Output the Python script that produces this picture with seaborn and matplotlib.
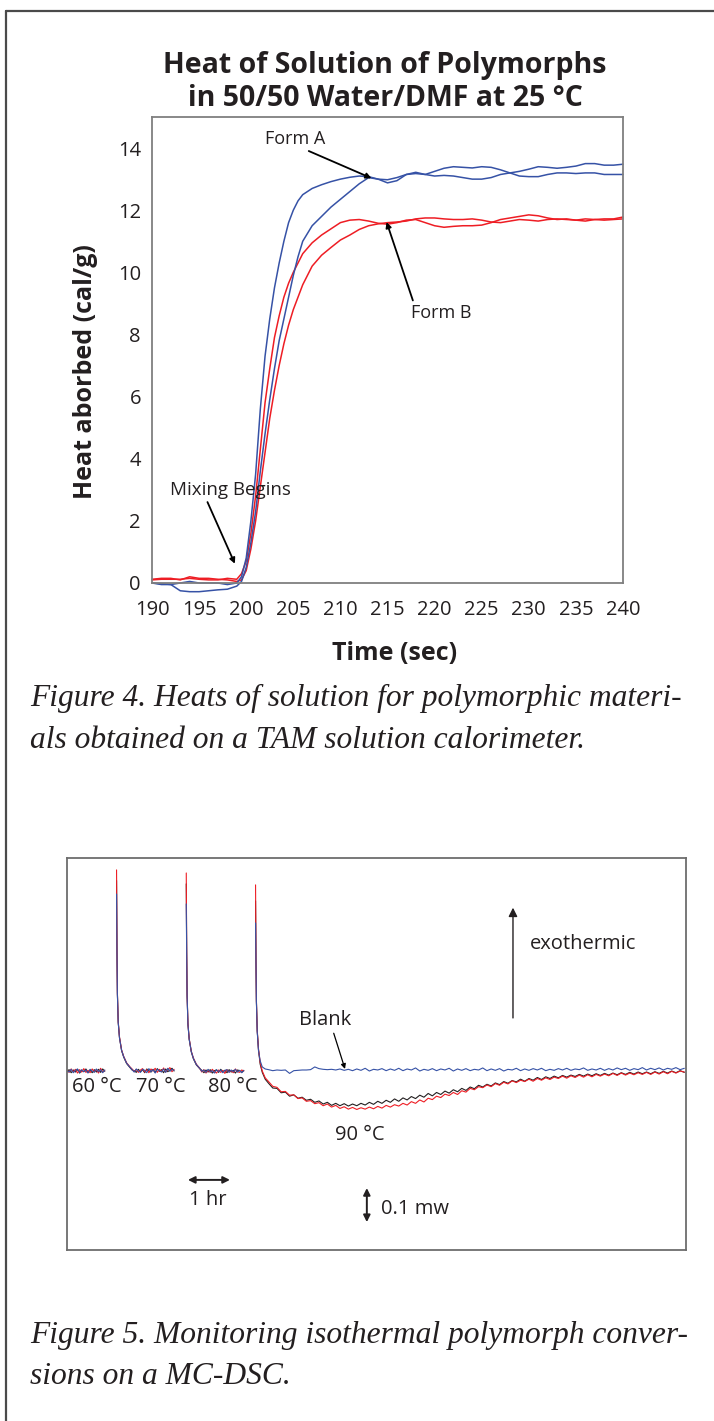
import numpy as np
import pandas as pd
import matplotlib
matplotlib.use("Agg")
import matplotlib.pyplot as plt
import seaborn as sns
from matplotlib.lines import Line2D

sns.set_style("white")
plt.rcParams['font.family'] = ['Open Sans', 'DejaVu Sans']

# ---------------- Figure 4 data (time in s, heat in cal/g) ----------------
time_s = ([190, 191, 192, 193, 194, 195, 196, 197, 198, 199,
           199.5, 200, 200.5, 201, 201.5, 202, 202.5, 203, 203.5, 204, 204.5, 205, 205.5, 206]
          + list(range(207, 241)))

form_a_run1 = [0.0, -0.02, -0.05, 0.0, 0.05, 0.0, 0.0, 0.0, -0.05, 0.0,
               0.2, 0.8, 2.0, 3.5, 5.6, 7.3, 8.5, 9.5, 10.3, 11.0, 11.6, 12.0, 12.3, 12.5,
               12.7, 12.82, 12.92, 13.0, 13.06, 13.1, 13.08, 13.0, 12.98, 13.05,
               13.15, 13.18, 13.15, 13.25, 13.35, 13.4, 13.38, 13.36, 13.4, 13.38,
               13.3, 13.2, 13.25, 13.32, 13.4, 13.38, 13.35, 13.38, 13.42, 13.5,
               13.5, 13.45, 13.45, 13.48]
form_a_run2 = [0.0, -0.05, -0.05, -0.25, -0.28, -0.28, -0.25, -0.22, -0.2, -0.1,
               0.05, 0.5, 1.3, 2.3, 3.6, 4.8, 5.9, 6.9, 7.8, 8.5, 9.2, 9.9, 10.5, 11.0,
               11.5, 11.8, 12.1, 12.35, 12.6, 12.85, 13.05, 13.0, 12.88, 12.95,
               13.15, 13.22, 13.15, 13.1, 13.12, 13.1, 13.05, 13.0, 13.0, 13.05,
               13.15, 13.2, 13.1, 13.08, 13.08, 13.15, 13.2, 13.2, 13.18, 13.2,
               13.2, 13.15, 13.15, 13.15]
form_b_run1 = [0.1, 0.12, 0.12, 0.12, 0.15, 0.12, 0.1, 0.1, 0.15, 0.12,
               0.3, 0.7, 1.6, 2.8, 4.3, 5.8, 6.9, 7.9, 8.6, 9.2, 9.65, 10.0, 10.3, 10.6,
               10.95, 11.2, 11.4, 11.6, 11.68, 11.7, 11.65, 11.58, 11.55, 11.6,
               11.68, 11.7, 11.6, 11.5, 11.45, 11.48, 11.5, 11.5, 11.52, 11.6,
               11.7, 11.75, 11.8, 11.85, 11.82, 11.75, 11.7, 11.72, 11.68, 11.65,
               11.7, 11.72, 11.72, 11.78]
form_b_run2 = [0.12, 0.15, 0.15, 0.1, 0.2, 0.15, 0.15, 0.12, 0.1, 0.05,
               0.1, 0.4, 1.1, 2.0, 3.1, 4.2, 5.3, 6.2, 7.0, 7.7, 8.3, 8.8, 9.2, 9.6,
               10.2, 10.55, 10.8, 11.04, 11.2, 11.38, 11.5, 11.56, 11.6, 11.62,
               11.65, 11.72, 11.75, 11.75, 11.72, 11.7, 11.7, 11.72, 11.68, 11.62,
               11.6, 11.65, 11.7, 11.68, 11.65, 11.7, 11.72, 11.7, 11.68, 11.72,
               11.7, 11.68, 11.7, 11.72]
x_ticks_s = [190, 195, 200, 205, 210, 215, 220, 225, 230, 235, 240]
y_ticks_cal = [0, 2, 4, 6, 8, 10, 12, 14]

# ---------------- Figure 5 data (time in h, heat flow in mW) ----------------
# 60 C step
h_60 = list(np.round(np.arange(0.0, 0.901, 0.05), 2))
red_60 = [0.003, -0.004, 0.006, -0.002, 0.005, -0.006, 0.004, -0.003, 0.007, -0.004,
          0.002, -0.005, 0.006, -0.002, 0.004, -0.006, 0.008, -0.003, 0.002]
black_60 = [-0.002, 0.004, -0.005, 0.003, -0.003, 0.005, -0.006, 0.002, -0.002, 0.006,
            -0.004, 0.003, -0.005, 0.004, -0.003, 0.005, -0.004, 0.006, -0.001]
blank_60 = [0.001, -0.003, 0.005, -0.005, 0.002, 0.006, -0.004, 0.004, -0.002, 0.003,
            -0.006, 0.005, 0.000, -0.004, 0.006, -0.002, 0.004, -0.005, 0.003]
# 70 C step
h_70 = [1.18, 1.19, 1.20, 1.22, 1.25, 1.30, 1.35, 1.42, 1.50] + list(np.round(np.arange(1.55, 2.551, 0.05), 2))
red_70 = [0.591, 0.360, 0.230, 0.145, 0.100, 0.062, 0.043, 0.024, 0.012,
          0.006, -0.002, 0.005, -0.004, 0.003, 0.007, -0.003, 0.004, -0.005, 0.006, 0.000,
          0.008, -0.004, 0.005, -0.002, 0.009, -0.003, 0.004, 0.010, -0.002, 0.005]
black_70 = [0.560, 0.355, 0.228, 0.143, 0.098, 0.060, 0.041, 0.022, 0.010,
            0.003, 0.001, -0.004, 0.005, -0.002, 0.004, -0.005, 0.006, 0.000, -0.003, 0.005,
            -0.004, 0.007, -0.001, 0.004, -0.005, 0.006, -0.002, 0.003, 0.008, 0.000]
blank_70 = [0.520, 0.350, 0.225, 0.142, 0.097, 0.061, 0.042, 0.023, 0.011,
            0.004, -0.003, 0.006, 0.000, -0.004, 0.005, 0.002, -0.005, 0.007, -0.002, 0.004,
            -0.006, 0.005, 0.001, -0.003, 0.006, -0.004, 0.008, -0.001, 0.005, 0.002]
# 80 C step
h_80 = [2.84, 2.85, 2.86, 2.88, 2.91, 2.96, 3.01, 3.08, 3.16] + list(np.round(np.arange(3.21, 4.211, 0.05), 2))
red_80 = [0.582, 0.350, 0.225, 0.140, 0.095, 0.058, 0.038, 0.020, 0.008,
          -0.003, 0.004, -0.006, 0.002, -0.004, 0.005, -0.002, -0.006, 0.003, -0.004, 0.002,
          -0.007, 0.004, -0.003, 0.001, -0.005, 0.006, -0.002, -0.004, 0.003, 0.000]
black_80 = [0.550, 0.345, 0.222, 0.138, 0.093, 0.056, 0.036, 0.018, 0.007,
            0.002, -0.005, 0.003, -0.003, 0.004, -0.006, 0.001, 0.003, -0.004, 0.005, -0.002,
            0.002, -0.005, 0.004, -0.003, 0.002, -0.006, 0.003, 0.001, -0.004, 0.002]
blank_80 = [0.491, 0.340, 0.220, 0.137, 0.093, 0.057, 0.037, 0.019, 0.008,
            -0.001, 0.003, -0.004, 0.005, -0.002, 0.001, -0.006, 0.004, -0.002, 0.003, -0.005,
            0.002, 0.004, -0.004, 0.003, -0.002, 0.005, -0.003, 0.002, -0.005, 0.001]
# 90 C step
h_90 = [4.49, 4.50, 4.51, 4.53, 4.56, 4.60, 4.65, 4.72] + list(np.round(np.arange(4.8, 14.701, 0.1), 2))
red_90 = [0.547, 0.330, 0.210, 0.120, 0.065, 0.025, 0.000, -0.020,
          -0.031, -0.045, -0.048, -0.061, -0.060, -0.071, -0.070, -0.081, -0.079, -0.089,
          -0.087, -0.096, -0.093, -0.102, -0.097, -0.106, -0.101, -0.110, -0.105, -0.112,
          -0.107, -0.113, -0.108, -0.112, -0.106, -0.111, -0.104, -0.109, -0.101, -0.106,
          -0.099, -0.103, -0.095, -0.100, -0.090, -0.095, -0.085, -0.091, -0.080, -0.084,
          -0.074, -0.078, -0.068, -0.072, -0.063, -0.069, -0.058, -0.062, -0.051, -0.055,
          -0.046, -0.049, -0.041, -0.046, -0.037, -0.042, -0.033, -0.038, -0.029, -0.034,
          -0.027, -0.031, -0.024, -0.030, -0.022, -0.027, -0.020, -0.025, -0.018, -0.022,
          -0.015, -0.021, -0.014, -0.019, -0.012, -0.018, -0.011, -0.017, -0.010, -0.015,
          -0.009, -0.014, -0.007, -0.013, -0.006, -0.012, -0.006, -0.011, -0.005, -0.010,
          -0.004, -0.010, -0.003, -0.009, -0.002, -0.008, -0.001, -0.006, 0.000, -0.003]
black_90 = [0.500, 0.320, 0.205, 0.118, 0.062, 0.020, -0.004, -0.024,
            -0.036, -0.050, -0.051, -0.064, -0.062, -0.074, -0.070, -0.080, -0.077, -0.086,
            -0.083, -0.092, -0.088, -0.097, -0.092, -0.101, -0.095, -0.102, -0.096, -0.103,
            -0.097, -0.102, -0.095, -0.100, -0.092, -0.098, -0.089, -0.095, -0.086, -0.092,
            -0.082, -0.089, -0.079, -0.085, -0.075, -0.081, -0.071, -0.077, -0.066, -0.073,
            -0.063, -0.069, -0.059, -0.065, -0.055, -0.061, -0.051, -0.057, -0.047, -0.052,
            -0.042, -0.047, -0.039, -0.044, -0.035, -0.040, -0.031, -0.036, -0.028, -0.032,
            -0.024, -0.030, -0.022, -0.027, -0.019, -0.025, -0.017, -0.022, -0.015, -0.020,
            -0.013, -0.018, -0.012, -0.016, -0.010, -0.015, -0.009, -0.014, -0.008, -0.013,
            -0.007, -0.012, -0.006, -0.011, -0.005, -0.010, -0.004, -0.009, -0.003, -0.008,
            -0.003, -0.008, -0.002, -0.007, -0.001, -0.006, 0.000, -0.005, 0.001, -0.004]
blank_90 = [0.435, 0.320, 0.205, 0.115, 0.060, 0.030, 0.012, 0.006,
            0.004, 0.001, 0.003, 0.002, 0.003, -0.007, 0.001, 0.002, 0.003, 0.003,
            0.004, 0.012, 0.007, 0.005, 0.004, 0.005, 0.003, 0.006, 0.002, 0.005,
            0.001, 0.006, 0.002, 0.008, 0.000, 0.005, 0.003, 0.007, 0.001, 0.006,
            0.002, 0.008, 0.001, 0.006, 0.003, 0.009, 0.000, 0.005, 0.002, 0.007,
            0.001, 0.006, 0.003, 0.008, 0.000, 0.006, 0.002, 0.007, 0.001, 0.005,
            0.003, 0.009, 0.001, 0.006, 0.002, 0.007, 0.000, 0.005, 0.003, 0.008,
            0.001, 0.006, 0.002, 0.007, 0.003, 0.008, 0.001, 0.005, 0.002, 0.007,
            0.003, 0.008, 0.002, 0.006, 0.004, 0.009, 0.002, 0.006, 0.003, 0.008,
            0.002, 0.007, 0.003, 0.009, 0.004, 0.008, 0.002, 0.007, 0.004, 0.010,
            0.003, 0.008, 0.004, 0.009, 0.003, 0.008, 0.005, 0.010, 0.004, 0.008]
step_labels = ["60 °C", "70 °C", "80 °C", "90 °C"]

# ---------------- figure ----------------
W, H = 714, 1421
fig = plt.figure(figsize=(W / 100, H / 100), dpi=100)


def fx(px):
    return px / W


def fy(py):
    return 1 - py / H


BLUE = "#3652A6"
RED = "#EE1D24"
BLACK = "#231F20"
GREY = "#7F7F7F"
TXT = "#231F20"

# outer frame
fig.add_artist(Line2D([fx(6), fx(6)], [fy(11), 0], color="#4a4a4a", lw=1.6))
fig.add_artist(Line2D([fx(6), 1], [fy(11), fy(11)], color="#4a4a4a", lw=1.6))

# ---------- top chart ----------
ax1 = fig.add_axes([fx(152), fy(583), (623 - 152) / W, (583 - 117) / H])
n = len(time_s)
df1 = pd.DataFrame({
    "t": time_s * 4,
    "v": form_a_run1 + form_a_run2 + form_b_run1 + form_b_run2,
    "curve": ["A1"] * n + ["A2"] * n + ["B1"] * n + ["B2"] * n,
})
sns.lineplot(data=df1, x="t", y="v", hue="curve", hue_order=["B1", "B2", "A1", "A2"],
             palette={"A1": BLUE, "A2": BLUE, "B1": RED, "B2": RED},
             estimator=None, sort=False, legend=False, lw=1.1, ax=ax1, clip_on=False)
ax1.set_xlim(190, 240)
ax1.set_ylim(0, 15)
ax1.set_xticks(x_ticks_s)
ax1.set_yticks(y_ticks_cal)
ax1.tick_params(axis="both", direction="out", length=5, width=1, color=GREY,
                labelsize=14.5, labelcolor=TXT)
ax1.tick_params(axis="x", pad=7)
ax1.tick_params(axis="y", pad=3)
for s in ax1.spines.values():
    s.set_color(GREY)
    s.set_linewidth(1.3)
ax1.set_xlabel("Time (sec)", fontsize=18, fontweight="bold", color=TXT)
ax1.set_ylabel("Heat aborbed (cal/g)", fontsize=18, fontweight="bold", color=TXT)
ax1.xaxis.set_label_coords(0.516, -0.125)
ax1.yaxis.set_label_coords(-0.115, 0.453)

fig.text(fx(385), fy(66), "Heat of Solution of Polymorphs", ha="center", va="center",
         fontsize=20.5, fontweight="bold", color=TXT)
fig.text(fx(385), fy(99), "in 50/50 Water/DMF at 25 °C", ha="center", va="center",
         fontsize=20.5, fontweight="bold", color=TXT)

arrow_kw = dict(arrowstyle="-|>", color="black", lw=1.3, mutation_scale=8, shrinkA=0, shrinkB=0)
ax1.annotate("Form A", xy=(213.3, 13.03), xytext=(205.2, 14.3), fontsize=13, color=TXT,
             ha="center", va="center", arrowprops=dict(arrow_kw, relpos=(0.6, 0.0)))
ax1.annotate("Form B", xy=(214.9, 11.62), xytext=(220.7, 8.7), fontsize=13, color=TXT,
             ha="center", va="center", arrowprops=dict(arrow_kw, relpos=(0.05, 1.0)))
ax1.annotate("Mixing Begins", xy=(198.8, 0.62), xytext=(198.3, 3.0), fontsize=13.5, color=TXT,
             ha="center", va="center", arrowprops=dict(arrow_kw, relpos=(0.3, 0.0)))

cap_kw = dict(family="Liberation Serif", style="italic", fontsize=22.7, va="center", color=TXT)
fig.text(fx(30), fy(698), "Figure 4. Heats of solution for polymorphic materi-", **cap_kw)
fig.text(fx(30), fy(741), "als obtained on a TAM solution calorimeter.", **cap_kw)

# ---------- bottom chart ----------
ax2 = fig.add_axes([fx(67), fy(1250), (686 - 67) / W, (1250 - 858) / H])
rows = []
for seg, (hh, r, k, b) in enumerate([(h_60, red_60, black_60, blank_60),
                                      (h_70, red_70, black_70, blank_70),
                                      (h_80, red_80, black_80, blank_80),
                                      (h_90, red_90, black_90, blank_90)]):
    for trace, vals in (("sample2", k), ("sample1", r), ("blank", b)):
        for x, y in zip(hh, vals):
            rows.append((x, y, trace, seg))
df2 = pd.DataFrame(rows, columns=["h", "mw", "trace", "seg"])
sns.lineplot(data=df2, x="h", y="mw", hue="trace", units="seg",
             hue_order=["sample2", "sample1", "blank"],
             palette={"sample2": BLACK, "sample1": RED, "blank": BLUE},
             estimator=None, sort=False, legend=False, lw=0.8, ax=ax2)
ax2.set_xlim(0, 14.74)
ax2.set_ylim(-0.526, 0.626)
ax2.set_xticks([])
ax2.set_yticks([])
ax2.set_xlabel("")
ax2.set_ylabel("")
for s in ax2.spines.values():
    s.set_color("#6d6d6d")
    s.set_linewidth(1.3)

lab_kw = dict(fontsize=14.5, ha="center", va="center", color=TXT)
for x, txt in zip([0.71, 2.24, 3.95], step_labels[:3]):
    ax2.text(x, -0.047, txt, **lab_kw)
ax2.text(6.98, -0.188, step_labels[3], **lab_kw)
ax2.annotate("Blank", xy=(6.62, 0.006), xytext=(6.14, 0.15), fontsize=14.5, ha="center", va="center",
             color=TXT,
             arrowprops=dict(arrowstyle="-|>", color="black", lw=0.9, mutation_scale=7,
                             shrinkA=0, shrinkB=0, relpos=(0.65, 0.0)))
ax2.annotate("", xy=(10.62, 0.48), xytext=(10.62, 0.156),
             arrowprops=dict(arrowstyle="-|>", color=BLACK, lw=1.0, mutation_scale=13,
                             shrinkA=0, shrinkB=0))
ax2.text(11.02, 0.374, "exothermic", fontsize=14.5, ha="left", va="center", color=TXT)
ax2.annotate("", xy=(2.88, -0.32), xytext=(3.88, -0.32),
             arrowprops=dict(arrowstyle="<|-|>", color=BLACK, lw=1.4, mutation_scale=10,
                             shrinkA=0, shrinkB=0))
ax2.text(3.36, -0.38, "1 hr", **lab_kw)
ax2.annotate("", xy=(7.14, -0.344), xytext=(7.14, -0.444),
             arrowprops=dict(arrowstyle="<|-|>", color=BLACK, lw=1.4, mutation_scale=10,
                             shrinkA=0, shrinkB=0))
ax2.text(7.48, -0.405, "0.1 mw", fontsize=14.5, ha="left", va="center", color=TXT)

fig.text(fx(30), fy(1336), "Figure 5. Monitoring isothermal polymorph conver-", **cap_kw)
fig.text(fx(30), fy(1377), "sions on a MC-DSC.", **cap_kw)

fig.savefig("out.png", dpi=100)
